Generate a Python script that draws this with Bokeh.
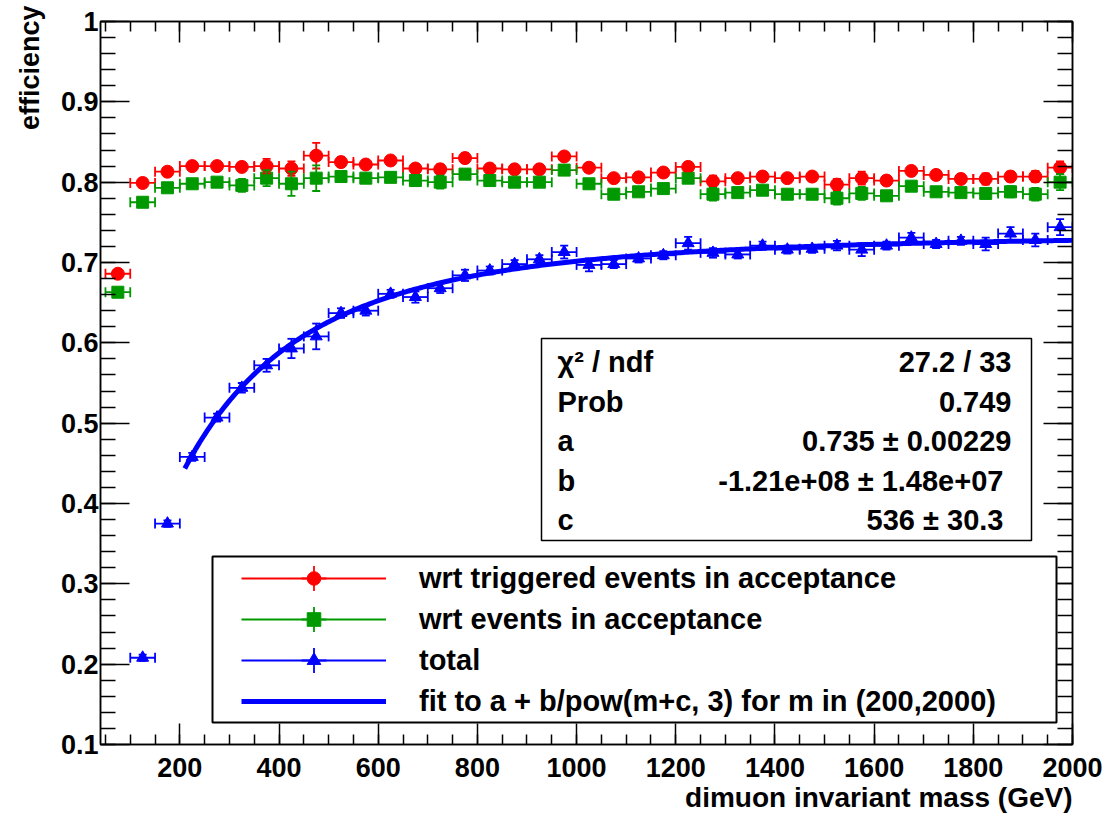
import numpy as np
from bokeh.plotting import figure
from bokeh.models import (Range1d, LinearAxis, FixedTicker, ColumnDataSource, Whisker,
                          TeeHead, Legend, LegendItem, BoxAnnotation, Label, Title)
from bokeh.embed import file_html
from bokeh.resources import INLINE

# ---------------- data ----------------
bin_centers = [75, 125, 175, 225, 275, 325, 375, 425, 475, 525,
               575, 625, 675, 725, 775, 825, 875, 925, 975, 1025,
               1075, 1125, 1175, 1225, 1275, 1325, 1375, 1425, 1475, 1525,
               1575, 1625, 1675, 1725, 1775, 1825, 1875, 1925, 1975]
bin_half_width = 25

eff_trig = [0.686, 0.799, 0.813, 0.820, 0.820, 0.819, 0.820, 0.817, 0.833, 0.825,
            0.822, 0.827, 0.817, 0.816, 0.830, 0.817, 0.816, 0.816, 0.832, 0.818,
            0.805, 0.806, 0.812, 0.819, 0.801, 0.805, 0.807, 0.805, 0.807, 0.797,
            0.805, 0.802, 0.814, 0.809, 0.804, 0.804, 0.807, 0.807, 0.818]
err_trig = [0.004, 0.004, 0.004, 0.004, 0.004, 0.005, 0.009, 0.009, 0.016, 0.006,
            0.005, 0.005, 0.005, 0.006, 0.006, 0.005, 0.005, 0.005, 0.005, 0.005,
            0.005, 0.005, 0.005, 0.006, 0.007, 0.005, 0.005, 0.005, 0.005, 0.007,
            0.008, 0.005, 0.005, 0.005, 0.005, 0.007, 0.006, 0.007, 0.008]

eff_acc = [0.663, 0.775, 0.793, 0.798, 0.800, 0.796, 0.805, 0.798, 0.805, 0.807,
           0.805, 0.806, 0.802, 0.800, 0.810, 0.802, 0.800, 0.800, 0.815, 0.798,
           0.785, 0.788, 0.792, 0.805, 0.785, 0.787, 0.790, 0.785, 0.785, 0.780,
           0.786, 0.783, 0.795, 0.788, 0.787, 0.786, 0.788, 0.785, 0.800]
err_acc = [0.004, 0.004, 0.004, 0.004, 0.004, 0.008, 0.010, 0.015, 0.016, 0.005,
           0.005, 0.005, 0.005, 0.008, 0.006, 0.005, 0.005, 0.005, 0.006, 0.005,
           0.005, 0.005, 0.005, 0.006, 0.008, 0.005, 0.005, 0.005, 0.005, 0.008,
           0.008, 0.005, 0.005, 0.005, 0.005, 0.006, 0.007, 0.008, 0.010]

total_centers = bin_centers[1:]
eff_total = [0.208, 0.375, 0.458, 0.507, 0.544, 0.572, 0.593, 0.608, 0.637,
             0.640, 0.661, 0.657, 0.668, 0.684, 0.690, 0.698, 0.704, 0.713, 0.697,
             0.698, 0.705, 0.709, 0.724, 0.712, 0.710, 0.721, 0.716, 0.717, 0.721,
             0.716, 0.721, 0.731, 0.723, 0.727, 0.723, 0.736, 0.728, 0.744]
err_total = [0.004, 0.004, 0.005, 0.005, 0.006, 0.008, 0.012, 0.016, 0.006,
             0.006, 0.005, 0.007, 0.006, 0.007, 0.005, 0.005, 0.005, 0.008, 0.008,
             0.005, 0.005, 0.005, 0.008, 0.006, 0.005, 0.005, 0.005, 0.005, 0.006,
             0.008, 0.005, 0.006, 0.005, 0.005, 0.008, 0.008, 0.008, 0.010]

# fit parameters (from stats box)
fit_a, fit_b, fit_c = 0.735, -1.21e8, 536.0
fit_m_min, fit_m_max = 210, 2000

x_major = [200, 400, 600, 800, 1000, 1200, 1400, 1600, 1800, 2000]
x_minor = list(range(50, 2001, 50))
y_major = [0.1, 0.2, 0.3, 0.4, 0.5, 0.6, 0.7, 0.8, 0.9, 1.0]
y_minor = [round(0.1 + 0.02 * i, 2) for i in range(46)]

stats_names = ["\u03c7\u00b2 / ndf", "Prob", "a", "b", "c"]
stats_values = ["27.2 / 33", "0.749", "0.735 \u00b1 0.00229",
                "-1.21e+08  \u00b1 1.48e+07", "536 \u00b1  30.3"]

legend_labels = ["wrt triggered events in acceptance", "wrt events in acceptance",
                 "total", "fit to a + b/pow(m+c, 3) for m in (200,2000)"]

x_title = "dimuon invariant mass (GeV)"
y_title = "efficiency"

FONT = "Liberation Sans"
RED, GREEN, BLUE = "#ff0000", "#009900", "#0000ff"

# ---------------- figure ----------------
p = figure(width=1108, height=814, x_range=Range1d(40, 2000), y_range=Range1d(0.1, 1.0),
           output_backend="svg", toolbar_location=None,
           min_border_left=99, min_border_right=36, min_border_top=21, min_border_bottom=70)
p.grid.visible = False
p.outline_line_color = "black"
p.outline_line_width = 1.5
p.background_fill_color = "white"
p.border_fill_color = "white"

p.add_layout(LinearAxis(), "above")
p.add_layout(LinearAxis(), "right")


def style_axis(ax, ticker, tin, tmin, show):
    ax.ticker = ticker
    ax.major_tick_in = tin
    ax.major_tick_out = 0
    ax.minor_tick_in = tmin
    ax.minor_tick_out = 0
    ax.axis_line_color = "black"
    ax.axis_line_width = 1.5
    ax.major_tick_line_color = "black"
    ax.major_tick_line_width = 1.5
    ax.minor_tick_line_color = "black"
    ax.minor_tick_line_width = 1.5
    ax.major_label_text_font = FONT
    ax.major_label_text_font_style = "bold"
    if show:
        ax.major_label_text_color = "black"
        ax.major_label_text_font_size = "27px"
    else:
        ax.major_label_text_color = None
        ax.major_label_text_font_size = "1px"
        ax.major_label_standoff = 0


for ax in p.below:
    style_axis(ax, FixedTicker(ticks=x_major, minor_ticks=x_minor), 21, 10, True)
    ax.major_label_standoff = 13
for ax in p.above:
    style_axis(ax, FixedTicker(ticks=x_major, minor_ticks=x_minor), 21, 10, False)
for ax in p.left:
    style_axis(ax, FixedTicker(ticks=y_major, minor_ticks=y_minor), 29, 15, True)
    ax.major_label_standoff = 2
    ax.major_label_overrides = {1.0: "1"}
for ax in p.right:
    style_axis(ax, FixedTicker(ticks=y_major, minor_ticks=y_minor), 29, 15, False)

# axis titles (ROOT style: aligned to the end of the axis)
p.add_layout(Title(text=x_title, align="right", vertical_align="middle", standoff=2,
                   text_font=FONT, text_font_style="bold", text_font_size="28px",
                   text_color="black"), "below")
p.add_layout(Title(text=y_title, align="right", vertical_align="bottom", standoff=25,
                   offset=-16, text_font=FONT, text_font_style="bold",
                   text_font_size="27px", text_color="black"), "left")


def add_series(xc, yv, ye, color, marker, size):
    xc = np.array(xc, dtype=float)
    yv = np.array(yv)
    ye = np.array(ye)
    src = ColumnDataSource(dict(x=xc, y=yv, xlo=xc - bin_half_width, xhi=xc + bin_half_width,
                                ylo=yv - ye, yhi=yv + ye))
    hseg = p.segment("xlo", "y", "xhi", "y", source=src, line_color=color, line_width=1.8)
    p.add_layout(Whisker(source=src, base="y", lower="xlo", upper="xhi", dimension="width",
                         line_alpha=0, level="glyph",
                         lower_head=TeeHead(size=10, line_color=color, line_width=1.8),
                         upper_head=TeeHead(size=10, line_color=color, line_width=1.8)))
    p.add_layout(Whisker(source=src, base="x", lower="ylo", upper="yhi", dimension="height",
                         line_color=color, line_width=1.8, level="glyph",
                         lower_head=TeeHead(size=8, line_color=color, line_width=1.8),
                         upper_head=TeeHead(size=8, line_color=color, line_width=1.8)))
    sc = p.scatter("x", "y", source=src, marker=marker, size=size,
                   fill_color=color, line_color=color)
    # legend-only sample of the vertical error bar (hidden in the plot area)
    vb = p.scatter("x", "y", source=src, marker="cross", size=size,
                   line_color=color, line_width=1.8, visible=False)
    return hseg, sc, vb


r_h, r_s, r_v = add_series(bin_centers, eff_trig, err_trig, RED, "circle", 13)
g_h, g_s, g_v = add_series(bin_centers, eff_acc, err_acc, GREEN, "square", 12)
b_h, b_s, b_v = add_series(total_centers, eff_total, err_total, BLUE, "triangle", 12)

m = np.linspace(fit_m_min, fit_m_max, 400)
fit_line = p.line(m, fit_a + fit_b / (m + fit_c) ** 3, line_color=BLUE, line_width=5)

# ---------------- stats box ----------------
p.add_layout(BoxAnnotation(left=441, right=931, bottom=204, top=406,
                           left_units="screen", right_units="screen",
                           bottom_units="screen", top_units="screen",
                           fill_color="white", fill_alpha=1.0,
                           line_color="black", line_alpha=1.0, line_width=1.5))
row_y = [383, 343, 304, 264, 225]
for name, val, yy in zip(stats_names, stats_values, row_y):
    p.add_layout(Label(x=457, y=yy, x_units="screen", y_units="screen", text=name,
                       text_font=FONT, text_font_style="bold", text_font_size="29px",
                       text_align="left", text_baseline="middle", text_color="black"))
    p.add_layout(Label(x=911, y=yy, x_units="screen", y_units="screen", text=val,
                       text_font=FONT, text_font_style="bold", text_font_size="29px",
                       text_align="right", text_baseline="middle", text_color="black"))

# ---------------- legend ----------------
p.add_layout(BoxAnnotation(left=112, right=956, bottom=22, top=188,
                           left_units="screen", right_units="screen",
                           bottom_units="screen", top_units="screen",
                           fill_color="white", fill_alpha=1.0,
                           line_color="black", line_alpha=1.0, line_width=2))
legend = Legend(items=[LegendItem(label=legend_labels[0], renderers=[r_h, r_s]),
                       LegendItem(label=legend_labels[1], renderers=[g_h, g_s]),
                       LegendItem(label=legend_labels[2], renderers=[b_h, b_s]),
                       LegendItem(label=legend_labels[3], renderers=[fit_line])],
                location=(131, 16), glyph_width=145, glyph_height=34,
                label_standoff=33, label_width=600, label_height=34, spacing=7,
                padding=10, margin=0, border_line_alpha=0, background_fill_alpha=0,
                label_text_font=FONT, label_text_font_style="bold",
                label_text_font_size="29px", label_text_color="black")
p.add_layout(legend)

# vertical error-bar samples drawn through the legend markers (one per entry)
for rend, bottom in [(r_v, 135), (g_v, 94), (b_v, 53)]:
    p.add_layout(Legend(items=[LegendItem(label=" ", renderers=[rend])],
                        location=(141, bottom), glyph_width=145, glyph_height=62,
                        label_standoff=0, label_width=1, label_height=1, spacing=0,
                        padding=0, margin=0, border_line_alpha=0,
                        background_fill_alpha=0, label_text_font=FONT,
                        label_text_font_size="10px"))

open("out.html", "w").write(file_html(p, INLINE))
